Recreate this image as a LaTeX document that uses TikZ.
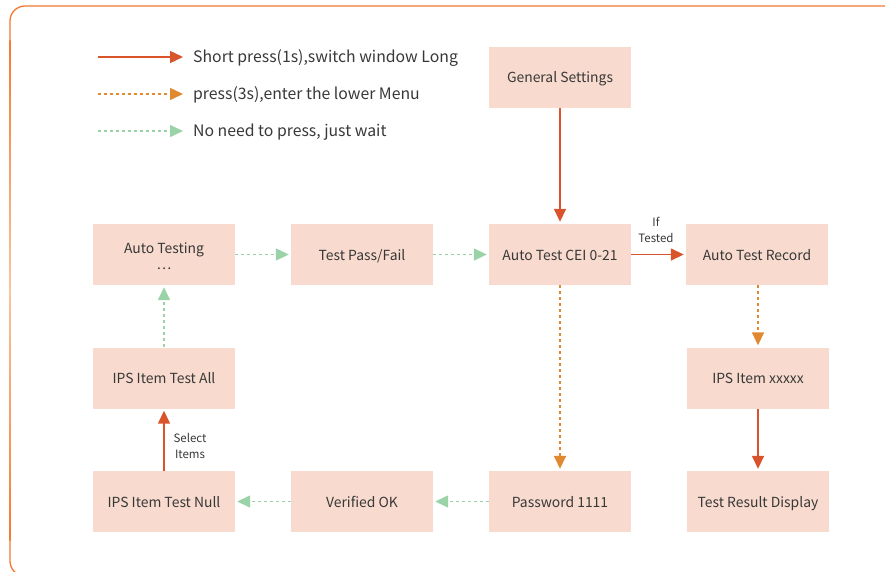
\documentclass[tikz,border=0pt]{standalone}
\usepackage{fontspec}
\setmainfont{Noto Sans CJK SC}
\usetikzlibrary{arrows.meta}
\definecolor{boxfill}{HTML}{F8DBCE}
\definecolor{txt}{HTML}{383838}
\definecolor{redc}{HTML}{D9532B}
\definecolor{orgc}{HTML}{E0892E}
\definecolor{grnc}{HTML}{9AD3A8}
\definecolor{bord}{HTML}{F47A30}
\definecolor{bordlight}{HTML}{FBC49F}
\tikzset{
  stepbox/.style={rectangle, fill=boxfill, minimum width=142pt, minimum height=61pt, inner sep=0pt,
    font=\fontsize{13.9}{19}\selectfont, text=txt, align=center, text height=11pt, text depth=0pt},
  redarr/.style={draw=redc, line width=1.5pt, -{Triangle[length=13pt,width=12pt]}, shorten >=2pt},
  orgarr/.style={draw=orgc, line width=1.5pt, dash pattern=on 3pt off 3pt, -{Triangle[length=13pt,width=12pt]}, shorten >=2pt},
  grnarr/.style={draw=grnc, line width=1.5pt, dash pattern=on 3pt off 3pt, -{Triangle[length=13pt,width=12pt]}, shorten >=2pt},
  legtext/.style={anchor=base west, font=\fontsize{15.8}{18}\selectfont, text=txt, inner sep=0pt},
  small/.style={font=\fontsize{11.5}{16}\selectfont, text=txt, align=center, inner sep=0pt}
}
\begin{document}
\begin{tikzpicture}[x=1pt,y=-1pt]
\useasboundingbox (0,0) rectangle (885,571);
% border
\begin{scope}
\clip (0,0) rectangle (885,571);
\draw[bord, line width=1.3pt, rounded corners=15pt] (10,80) -- (10,6) -- (895,6);
\draw[bord, line width=1.3pt, rounded corners=15pt] (10,500) -- (10,576) -- (40,576);
\shade[top color=bord, bottom color=bord, middle color=bordlight] (9.35,40) rectangle (10.65,540);
\end{scope}
% legend
\coordinate (l1a) at (98,57); \coordinate (l1b) at (185,57);
\coordinate (l2a) at (98,94); \coordinate (l2b) at (185,94);
\coordinate (l3a) at (98,131); \coordinate (l3b) at (185,131);
\draw[redarr] (l1a) -- (l1b);
\draw[orgarr] (l2a) -- (l2b);
\draw[grnarr] (l3a) -- (l3b);
\node[legtext] (t1) at (193,62.5) {Short press(1s),switch window Long};
\node[legtext] (t2) at (193,99.5) {press(3s),enter the lower Menu};
\node[legtext] (t3) at (193,136.5) {No need to press, just wait};
% boxes
\node[stepbox] (gs) at (560,77) {General Settings};
\node[stepbox, text height=30.5pt, text depth=0pt] (at) at (164,254.5) {Auto Testing\\[-3pt]…};
\node[stepbox] (pf) at (362,254.5) {Test Pass/Fail};
\node[stepbox] (cei) at (560,254.5) {Auto Test CEI 0-21};
\node[stepbox] (rec) at (757,254.5) {Auto Test Record};
\node[stepbox] (all) at (164,378) {IPS Item Test All};
\node[stepbox] (xx) at (758,378) {IPS Item xxxxx};
\node[stepbox] (null) at (164,501.5) {IPS Item Test Null};
\node[stepbox] (ok) at (362,501.5) {Verified OK};
\node[stepbox] (pw) at (560,501.5) {Password 1111};
\node[stepbox] (res) at (758,501.5) {Test Result Display};
% connectors
\draw[redarr] (gs) -- (cei);
\draw[grnarr] (at) -- (pf);
\draw[grnarr] (pf) -- (cei);
\draw[redarr] (cei) -- (rec);
\draw[orgarr] (rec.south -| xx.north) -- (xx);
\draw[redarr] (xx) -- (res);
\draw[orgarr] (cei) -- (pw);
\draw[grnarr] (pw) -- (ok);
\draw[grnarr] (ok) -- (null);
\draw[redarr] (null) -- (all);
\draw[grnarr] (all) -- (at);
% labels
\node[small] (iftested) at (656,230) {If\\Tested};
\node[small] (selitems) at (190,446) {Select\\Items};
\end{tikzpicture}
\end{document}
